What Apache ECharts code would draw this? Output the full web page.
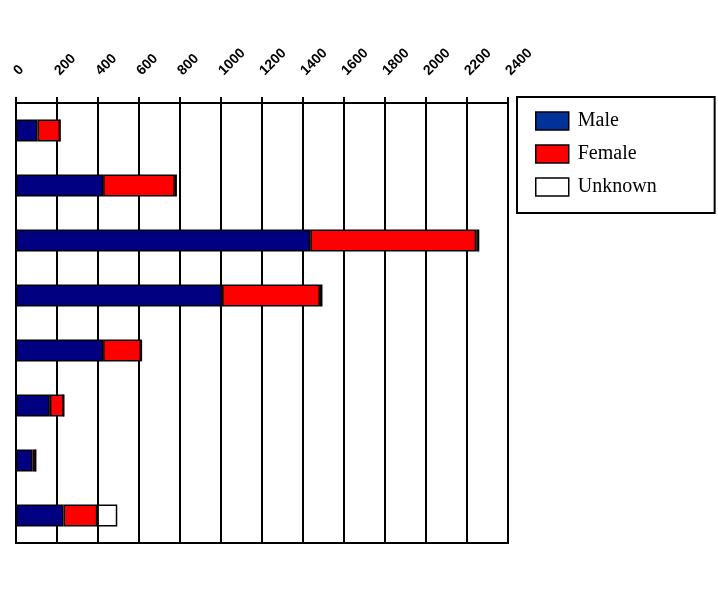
<!DOCTYPE html>
<html>
<head>
<meta charset="utf-8">
<script src="https://cdn.jsdelivr.net/npm/echarts@6/dist/echarts.min.js"></script>
<style>
  html, body { margin: 0; padding: 0; background: #fff; }
  #main { width: 718px; height: 594px; }
</style>
</head>
<body>
<div id="main"></div>
<script>
var categories = ['1', '2', '3', '4', '5', '6', '7', '8'];
var male = [105, 425, 1435, 1005, 425, 165, 80, 232];
var female = [110, 350, 810, 478, 185, 68, 16, 165];
var unknown = [0, 10, 15, 12, 3, 0, 0, 97];

var myChart = echarts.init(document.getElementById('main'));

function barSeries(name, data, color) {
  return {
    name: name,
    type: 'bar',
    stack: 'all',
    data: data,
    barWidth: 22,
    itemStyle: { color: color, borderColor: '#000', borderWidth: 1.5 }
  };
}

var option = {
  animation: false,
  legend: {
    orient: 'vertical',
    left: 517,
    top: 97,
    padding: [14, 58, 16, 18],
    itemWidth: 33,
    itemHeight: 18,
    itemGap: 13,
    borderColor: '#000',
    borderWidth: 2,
    borderRadius: 0,
    textStyle: { fontFamily: 'Liberation Serif', fontSize: 20, color: '#000', padding: [0, 0, 0, 4] },
    data: [
      { name: 'Male', icon: 'rect', itemStyle: { color: '#003399', borderColor: '#000', borderWidth: 1.5 } },
      { name: 'Female', icon: 'rect', itemStyle: { color: '#ff0000', borderColor: '#000', borderWidth: 1.5 } },
      { name: 'Unknown', icon: 'rect', itemStyle: { color: '#ffffff', borderColor: '#000', borderWidth: 1.5 } }
    ]
  },
  grid: {
    left: 16, right: 210, top: 103, bottom: 51,
    show: true, borderColor: '#000', borderWidth: 2, backgroundColor: 'transparent'
  },
  xAxis: {
    type: 'value',
    position: 'top',
    min: 0, max: 2400, interval: 200,
    axisLine: { show: true, lineStyle: { color: '#000', width: 2 } },
    axisTick: { show: true, length: 6, lineStyle: { color: '#000', width: 2 } },
    splitLine: { show: true, lineStyle: { color: '#000', width: 2 } },
    axisLabel: {
      rotate: -45, margin: 30, color: '#000',
      fontFamily: 'Liberation Sans', fontWeight: 'bold', fontSize: 14,
      showMaxLabel: true,
      formatter: function (v) { return String(v); }
    }
  },
  yAxis: {
    type: 'category',
    inverse: true,
    data: categories,
    axisLine: { show: true, lineStyle: { color: '#000', width: 2 } },
    axisTick: { show: false },
    axisLabel: { show: false }
  },
  series: [
    barSeries('Male', male, '#000080'),
    barSeries('Female', female, '#ff0000'),
    barSeries('Unknown', unknown, '#ffffff')
  ]
};
myChart.setOption(option);
</script>
</body>
</html>
